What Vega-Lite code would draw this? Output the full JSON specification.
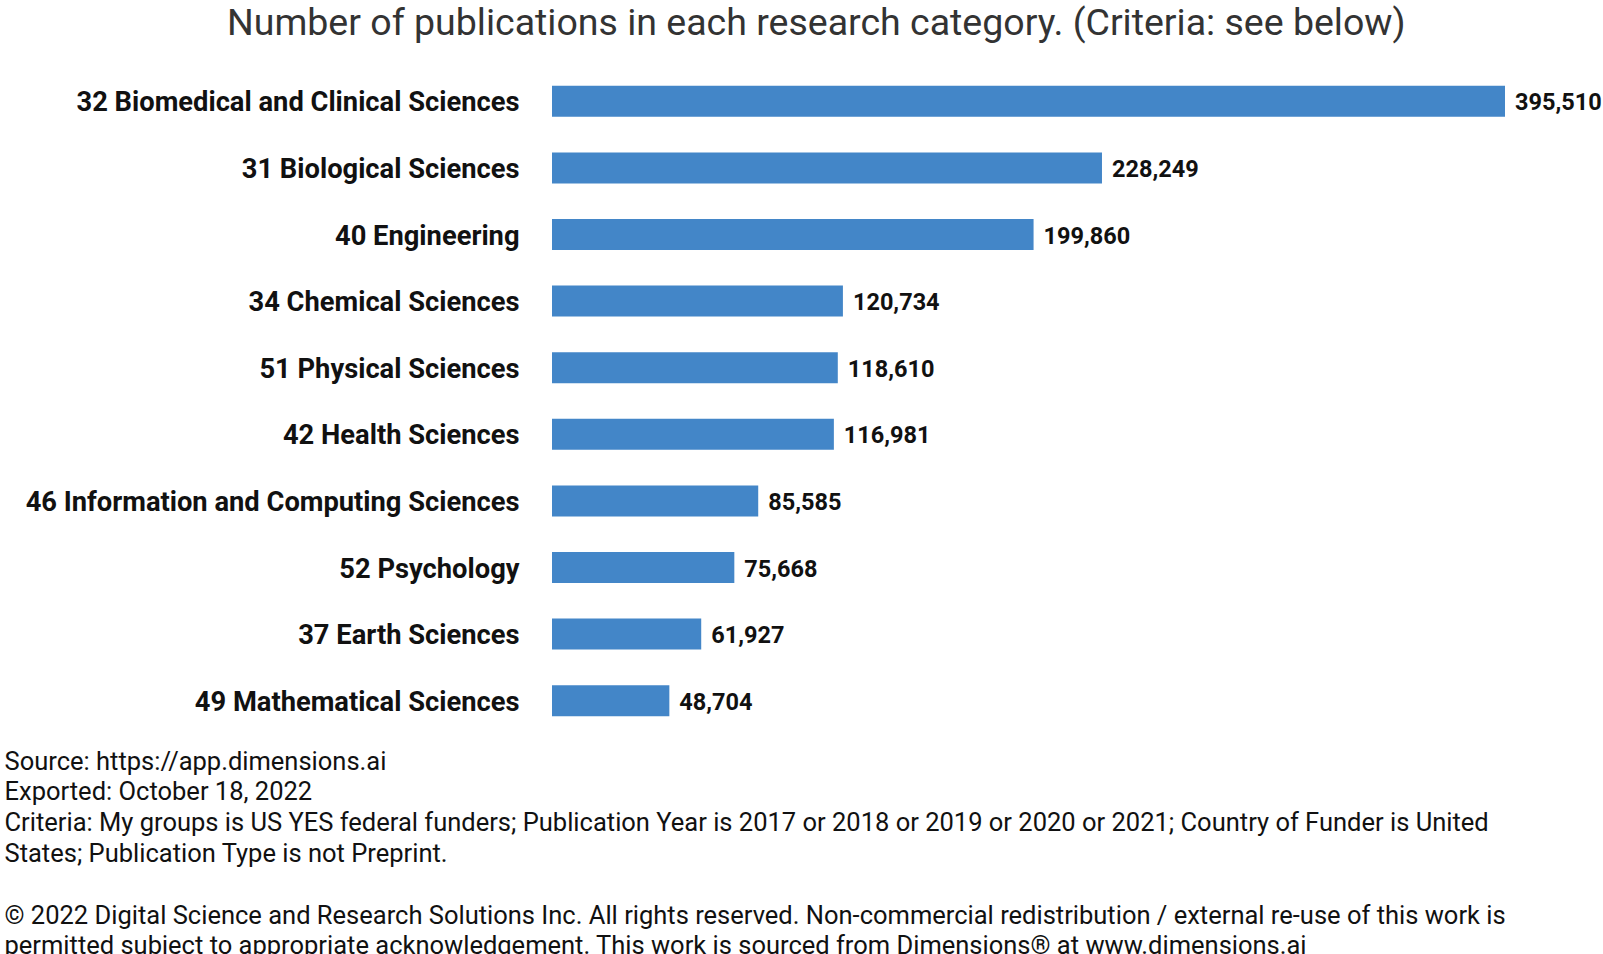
{
  "$schema": "https://vega.github.io/schema/vega-lite/v6.json",
  "autosize": {"type": "none"},
  "width": 953,
  "height": 666,
  "padding": {"left": 552, "top": 68, "right": 98, "bottom": 220},
  "background": "white",
  "config": {"view": {"stroke": null}, "font": "Roboto"},
  "title": {
    "text": "Number of publications in each research category. (Criteria: see below)",
    "anchor": "start",
    "frame": "group",
    "dx": -325,
    "offset": -4,
    "baseline": "alphabetic",
    "font": "Roboto",
    "fontSize": 37.5,
    "fontWeight": "normal",
    "color": "#333333"
  },
  "data": {
    "values": [
      {"category": "32 Biomedical and Clinical Sciences", "count": 395510},
      {"category": "31 Biological Sciences", "count": 228249},
      {"category": "40 Engineering", "count": 199860},
      {"category": "34 Chemical Sciences", "count": 120734},
      {"category": "51 Physical Sciences", "count": 118610},
      {"category": "42 Health Sciences", "count": 116981},
      {"category": "46 Information and Computing Sciences", "count": 85585},
      {"category": "52 Psychology", "count": 75668},
      {"category": "37 Earth Sciences", "count": 61927},
      {"category": "49 Mathematical Sciences", "count": 48704}
    ]
  },
  "encoding": {
    "y": {
      "field": "category",
      "type": "nominal",
      "sort": null,
      "scale": {"paddingInner": 0.535, "paddingOuter": 0.2675},
      "axis": {
        "title": null,
        "ticks": false,
        "domain": false,
        "labelPadding": 33,
        "labelOffset": 2,
        "labelFont": "Roboto",
        "labelFontSize": 27.3,
        "labelFontWeight": "bold",
        "labelColor": "#111111",
        "labelLimit": 0
      }
    },
    "x": {
      "field": "count",
      "type": "quantitative",
      "scale": {"domain": [0, 395510], "nice": false},
      "axis": {
        "domain": false,
        "ticks": false,
        "labels": false,
        "grid": false,
        "title": [
          "Source: https://app.dimensions.ai",
          "Exported: October 18, 2022",
          "Criteria: My groups is US YES federal funders; Publication Year is 2017 or 2018 or 2019 or 2020 or 2021; Country of Funder is United",
          "States; Publication Type is not Preprint.",
          "\u200b",
          "© 2022 Digital Science and Research Solutions Inc. All rights reserved. Non-commercial redistribution / external re-use of this work is",
          "permitted subject to appropriate acknowledgement. This work is sourced from Dimensions® at www.dimensions.ai"
        ],
        "titleAnchor": "start",
        "titleAlign": "left",
        "titleBaseline": "top",
        "titleX": -548,
        "titleY": 15,
        "titleFont": "Roboto",
        "titleFontSize": 25.5,
        "titleFontWeight": "normal",
        "titleColor": "#111111",
        "titleLineHeight": 30.8,
        "titleLimit": 0
      }
    }
  },
  "layer": [
    {"mark": {"type": "bar", "color": "#4386C8"}},
    {
      "mark": {"type": "text", "align": "left", "baseline": "middle", "dx": 10, "dy": 2, "font": "Roboto", "fontSize": 23.5, "fontWeight": "bold", "color": "#111111"},
      "encoding": {"text": {"field": "count", "type": "quantitative", "format": ","}}
    }
  ]
}
